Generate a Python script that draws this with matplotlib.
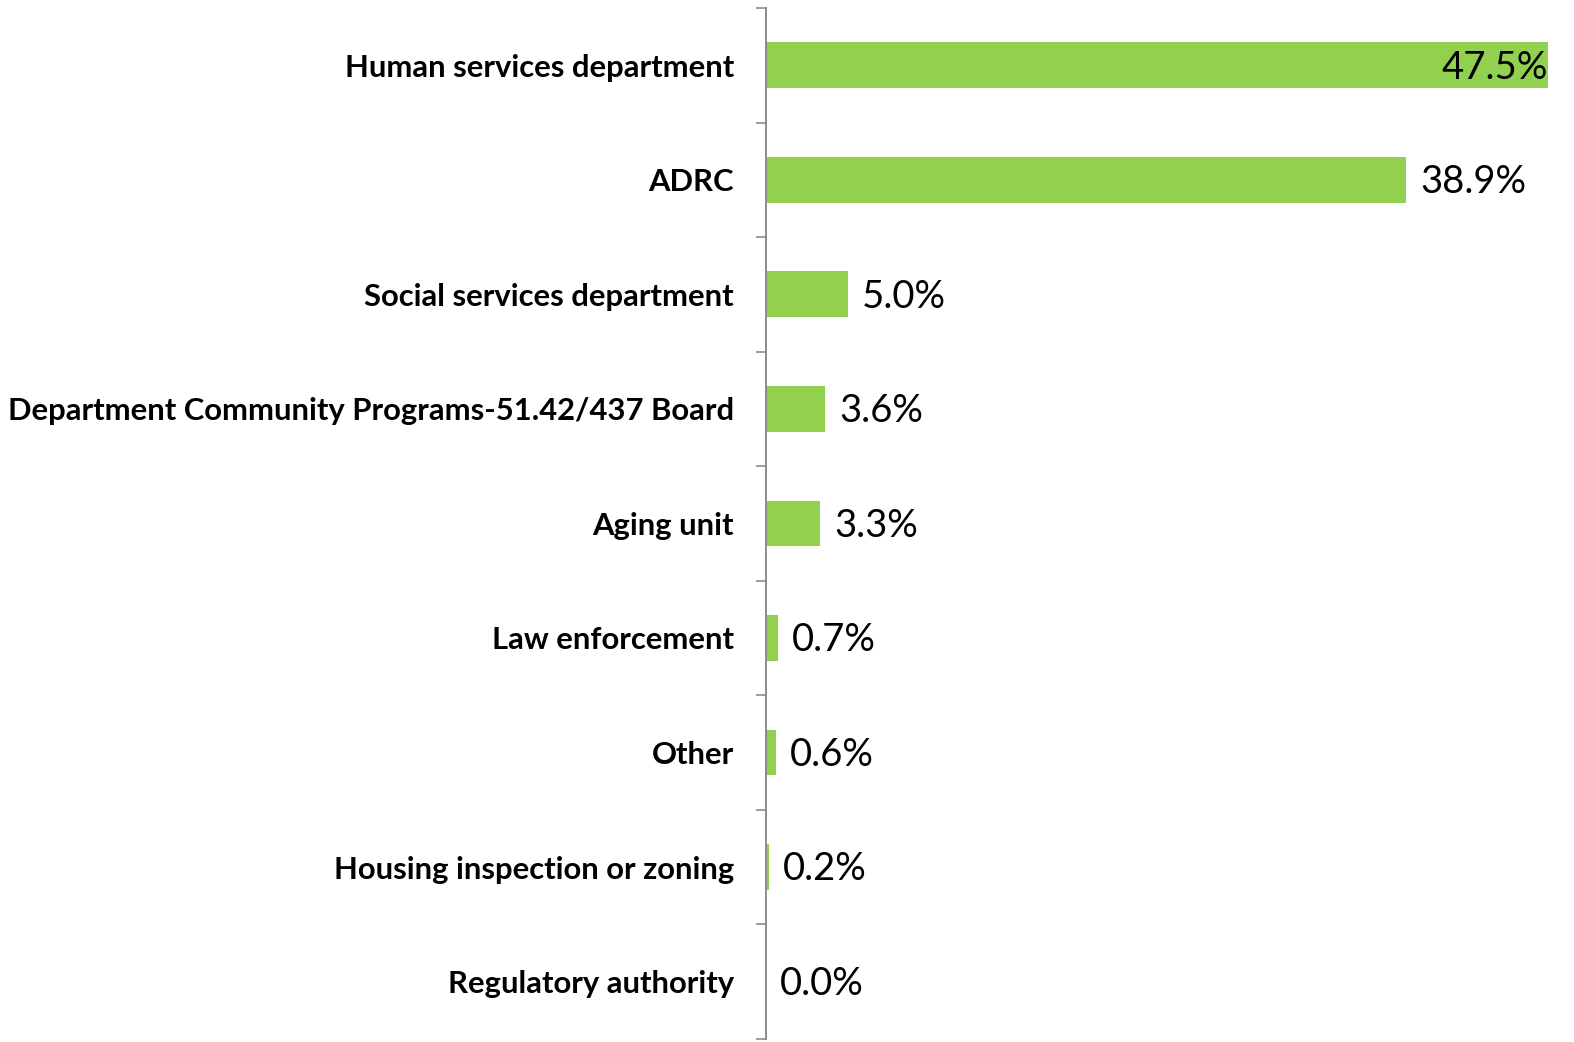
import matplotlib.pyplot as plt
import numpy as np

categories = ["Human services department", "ADRC", "Social services department",
              "Department Community Programs-51.42/437 Board", "Aging unit",
              "Law enforcement", "Other", "Housing inspection or zoning",
              "Regulatory authority"]
values = [47.5, 38.9, 5.0, 3.6, 3.3, 0.7, 0.6, 0.2, 0.0]

plt.rcParams['font.family'] = ['Lato', 'DejaVu Sans']

fig = plt.figure(figsize=(15.74, 10.42), dpi=100)
ax = fig.add_axes([766 / 1574, 0.003, 1 - 766 / 1574, 0.9923 - 0.003])

y = np.arange(len(categories))
ax.barh(y, values, height=0.4, color='#92D050')
ax.set_xlim(0, (1574 - 766) / 16.46)
ax.set_ylim(len(categories) - 0.5, -0.5)

for yi, v in zip(y, values):
    if v == max(values):
        ax.text(v, yi + 0.02, f"{v:.1f}%", ha='right', va='center', fontsize=27.5)
    else:
        ax.annotate(f"{v:.1f}%", (v, yi + 0.02), xytext=(10, 0), textcoords='offset points',
                    ha='left', va='center', fontsize=27.5)

ax.set_yticks(y)
ax.set_yticklabels(categories, fontsize=22.3, fontweight='bold')
ax.set_yticks(np.arange(-0.5, len(categories)), minor=True)
ax.tick_params(axis='y', which='major', length=0, pad=23)
ax.tick_params(axis='y', which='minor', length=7.2, width=1.2, color='#8c8c8c')
ax.set_xticks([])
for s in ['top', 'right', 'bottom']:
    ax.spines[s].set_visible(False)
ax.spines['left'].set_color('#8c8c8c')
ax.spines['left'].set_linewidth(1.4)

fig.savefig('out.png', dpi=100)
